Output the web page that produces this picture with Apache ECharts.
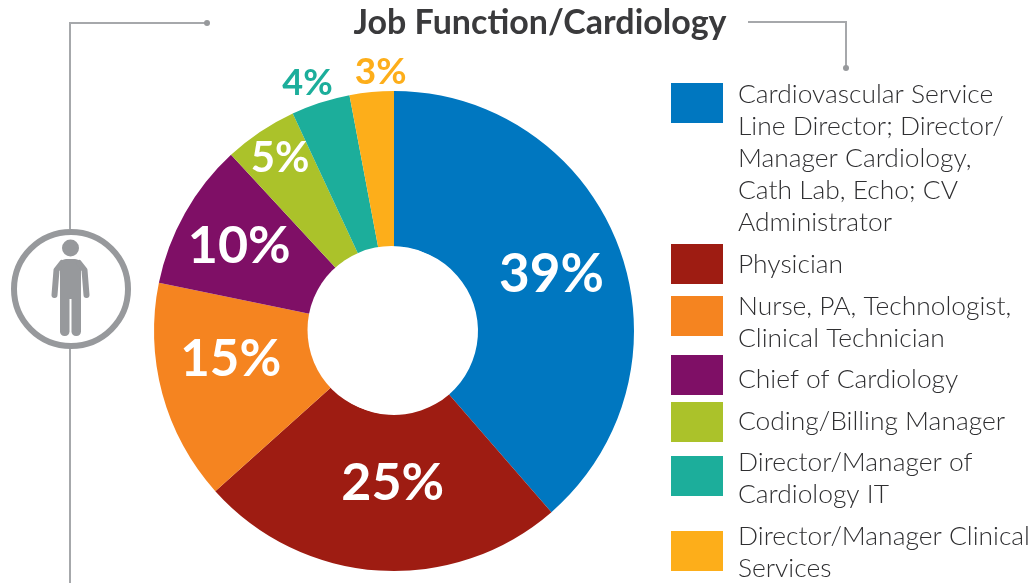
<!DOCTYPE html>
<html><head><meta charset="utf-8">
<style>html,body{margin:0;padding:0;background:#fff}#c{width:1034px;height:583px}</style>
<script src="https://cdn.jsdelivr.net/npm/echarts@6/dist/echarts.min.js"></script></head>
<body><div id="c"></div>
<script>
const titleText = 'Job Function/Cardiology';
const categories = ['Cardiovascular Service\nLine Director; Director/\nManager Cardiology,\nCath Lab, Echo; CV\nAdministrator','Physician','Nurse, PA, Technologist,\nClinical Technician','Chief of Cardiology','Coding/Billing Manager','Director/Manager of\nCardiology IT','Director/Manager Clinical\nServices'];
const values = [39,25,15,10,5,4,3];
const colors = ['#0077c0','#9e1c12','#f58420','#7f0f66','#abc22a','#1cae9b','#fdae1a'];

// layout, kept apart from the data
const swatchTops = [83,244,296,355,402,456,531];
const textTops = [78.5,248.5,290.5,363.5,405.5,446.5,520.5];
const labelOffsets = [[3,2],[9,-12],[-4,-15],[-11,-4],[-22,-36],[-36,-91],[2,-95]];
const labelSizes = [53,52,51,52,42,36,37];
const grey = '#97999c';

const chart = echarts.init(document.getElementById('c'), null, {renderer:'canvas'});
const legendEls = [];
categories.forEach((name,i)=>{
  legendEls.push({type:'rect',shape:{x:671,y:swatchTops[i],width:52,height:40},style:{fill:colors[i]},silent:true});
  legendEls.push({type:'text',x:738,y:textTops[i],style:{text:name,font:'300 26.4px Lato',fill:'#2f2f31',lineHeight:32,align:'left',verticalAlign:'top'},silent:true});
});
const lineStyle = {stroke:'#a6a8ab',lineWidth:2,fill:null};
const armStyle = {stroke:grey,lineWidth:6,lineCap:'round',lineJoin:'round',fill:null};
const decor = [
  {type:'polyline',shape:{points:[[70,229],[70,23],[207,23]]},style:lineStyle,silent:true},
  {type:'circle',shape:{cx:207,cy:23,r:3},style:{fill:grey},silent:true},
  {type:'polyline',shape:{points:[[748,22],[846,22],[846,68]]},style:lineStyle,silent:true},
  {type:'circle',shape:{cx:846,cy:68,r:3},style:{fill:grey},silent:true},
  {type:'line',shape:{x1:70,y1:348,x2:70,y2:583},style:lineStyle,silent:true},
  {type:'circle',shape:{cx:71,cy:289,r:57},style:{fill:'#fff',stroke:grey,lineWidth:6},silent:true},
  // person icon
  {type:'circle',shape:{cx:70.5,cy:248,r:8.5},style:{fill:grey},silent:true},
  {type:'rect',shape:{x:60,y:259,width:21,height:40,r:[6,6,0,0]},style:{fill:grey},silent:true},
  {type:'rect',shape:{x:60,y:285,width:9.5,height:51,r:[0,0,4.5,4.5]},style:{fill:grey},silent:true},
  {type:'rect',shape:{x:71.5,y:285,width:9.5,height:51,r:[0,0,4.5,4.5]},style:{fill:grey},silent:true},
  {type:'polyline',shape:{points:[[62,263],[56.5,270],[54.5,295]]},style:armStyle,silent:true},
  {type:'polyline',shape:{points:[[79,263],[84.5,270],[86.5,295]]},style:armStyle,silent:true},
  // doughnut hole sits slightly off the pie centre in the reference
  {type:'circle',z:10,shape:{cx:391.5,cy:330,r:84},style:{fill:'#fff'},silent:true}
];
chart.setOption({
  animation:false,
  backgroundColor:'#fff',
  title:{text:titleText,left:535,top:1,textAlign:'center',textStyle:{fontFamily:'Lato',fontSize:34,fontWeight:'bold',color:'#3a3a3c'}},
  graphic:{elements:decor.concat(legendEls)},
  series:[{
    type:'pie',center:[394,331],radius:[84,240],startAngle:90,clockwise:true,
    avoidLabelOverlap:false,silent:true,
    labelLine:{show:false},
    data:values.map((v,i)=>({
      value:v,name:categories[i],
      itemStyle:{color:colors[i]},
      label:{show:true,position:'inside',formatter:v+'%',offset:labelOffsets[i],
        fontFamily:'Lato',fontWeight:'bold',fontSize:labelSizes[i],
        color:i>=5?colors[i]:'#fff',textBorderWidth:0,textShadowBlur:0}
    }))
  }]
});
</script></body></html>
